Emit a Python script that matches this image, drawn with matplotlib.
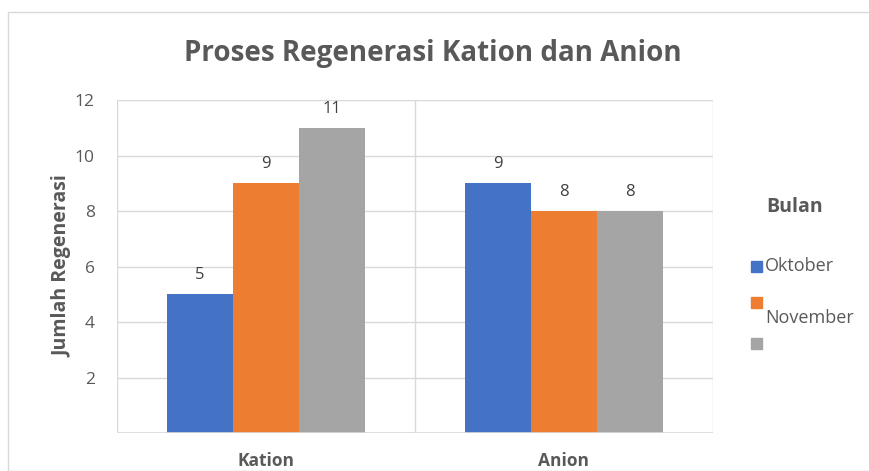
import numpy as np
import matplotlib.pyplot as plt
from matplotlib.patches import Rectangle

categories = ["Kation", "Anion"]
series_names = ["Oktober", "November", ""]
values = [
    [5, 9],    # Oktober
    [9, 8],    # November
    [11, 8],   # (tanpa nama)
]
colors = ["#4472C4", "#ED7D31", "#A5A5A5"]
y_ticks = [2, 4, 6, 8, 10, 12]

plt.rcParams['font.family'] = ['Open Sans', 'DejaVu Sans']
text_col = "#595959"
grid_col = "#D9D9D9"

fig = plt.figure(figsize=(8.7, 4.71), dpi=100)
W, H = 870, 471

# chart border
fig.patches.append(Rectangle((8 / W, 0), 1, 1 - 12 / H, transform=fig.transFigure,
                             fill=False, edgecolor=grid_col, linewidth=1))

ax = fig.add_axes([117 / W, 1 - 433 / H, (713 - 117) / W, (433 - 100) / H])
x = np.arange(len(categories))
bw = 0.2215
for i, (name, vals) in enumerate(zip(series_names, values)):
    bars = ax.bar(x + (i - 1) * bw, vals, bw, color=colors[i], zorder=3)
    for b, v in zip(bars, vals):
        ax.text(b.get_x() + b.get_width() / 2, v + 0.4, str(v), ha='center', va='bottom',
                fontsize=12, color="#404040")

ax.set_xlim(-0.5, len(categories) - 0.5)
ax.set_ylim(0, 12)
ax.set_yticks(y_ticks)
ax.set_yticklabels([str(t) for t in y_ticks], fontsize=12.5, color=text_col)
ax.set_xticks(x)
ax.set_xticklabels(categories, fontsize=12.5, fontweight='bold', color=text_col)
ax.tick_params(axis='both', length=0)
ax.tick_params(axis='y', pad=16)
ax.tick_params(axis='x', pad=14)
ax.grid(axis='y', color=grid_col, linewidth=1, zorder=0)
for xv in np.arange(len(categories) + 1) - 0.5:
    ax.axvline(xv, color=grid_col, linewidth=1, zorder=1)
for s in ax.spines.values():
    s.set_visible(False)
ax.axhline(0, color=grid_col, linewidth=1.2, zorder=4)

ax.set_ylabel("Jumlah Regenerasi", fontsize=14, fontweight='bold', color=text_col, labelpad=2)
fig.text(433 / W, 1 - 53 / H, "Proses Regenerasi Kation dan Anion", ha='center', va='center',
         fontsize=20, fontweight='bold', color=text_col)

# legend drawn by hand to mimic the wrapped entries
fig.text(766 / W, 1 - 207 / H, "Bulan", ha='left', va='center', fontsize=14,
         fontweight='bold', color=text_col)
sq = 11
legend_rows = [(266, 266), (302, 318), (343, 343)]
for (sy, ty), name, c in zip(legend_rows, series_names, colors):
    fig.patches.append(Rectangle((751 / W, 1 - (sy + sq / 2) / H), sq / W, sq / H,
                                 transform=fig.transFigure, color=c))
    if name:
        fig.text(765 / W, 1 - ty / H, name, ha='left', va='center', fontsize=13, color=text_col)

fig.savefig("out.png", dpi=100)
